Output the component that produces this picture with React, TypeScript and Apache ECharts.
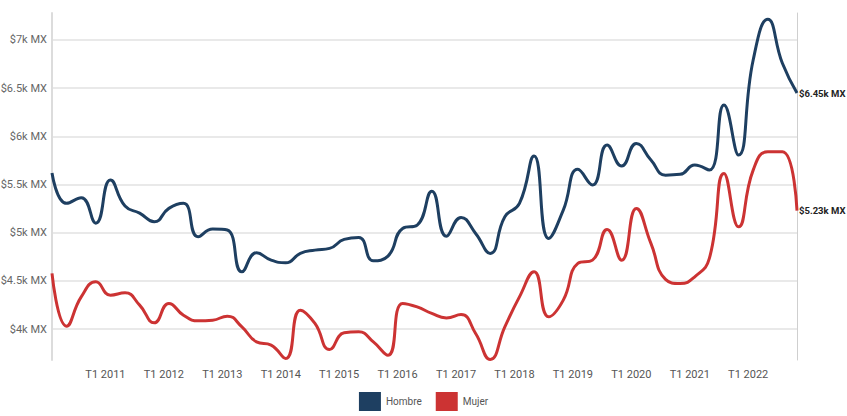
import React, { useEffect, useRef } from "react";
import * as echarts from "echarts";

const years = [2010, 2011, 2012, 2013, 2014, 2015, 2016, 2017, 2018, 2019, 2020, 2021, 2022];
const quarters = ["T1", "T2", "T3", "T4"];
const categories: string[] = [];
years.forEach((y) => quarters.forEach((q) => categories.push(`${q} ${y}`)));

const hombre = [
  5620, 5305, 5363, 5100, 5547, 5277, 5204, 5114, 5253, 5305,
  4958, 5038, 5028, 4595, 4792, 4716, 4688, 4786, 4820, 4838,
  4931, 4952, 4709, 4758, 5045, 5080, 5432, 4965, 5159, 4993,
  4786, 5166, 5305, 5796, 4941, 5235, 5658, 5495, 5910, 5692,
  5927, 5754, 5598, 5606, 5702, 5650, 6325, 5806, 6792, 7215,
  6758, 6450,
];

const mujer = [
  4578, 4031, 4335, 4491, 4353, 4377, 4249, 4066, 4267, 4145,
  4086, 4093, 4135, 4024, 3868, 3834, 3696, 4197, 4059, 3789,
  3962, 3972, 3868, 3730, 4267, 4231, 4163, 4117, 4152, 3955,
  3685, 4024, 4335, 4595, 4128, 4301, 4682, 4716, 5035, 4716,
  5253, 4890, 4516, 4474, 4543, 4734, 5616, 5062, 5650, 5840,
  5840, 5230,
];

const yMin = 3680;
const yMax = 7280;

const FONT = "Roboto, 'Noto Sans', sans-serif";

export default function App() {
  const ref = useRef<HTMLDivElement>(null);
  useEffect(() => {
    document.body.style.margin = "0";
    if (!ref.current) return;
    const chart = echarts.init(ref.current, null, { renderer: "svg" });
    const endFmt = (p: any) => `$${(Math.round(p.value / 10) / 100).toFixed(2)}k MX`;
    chart.setOption({
      animation: false,
      textStyle: { fontFamily: FONT },
      grid: {
        left: 52,
        right: 50,
        top: 13,
        bottom: 56,
        containLabel: false,
        outerBoundsMode: "none",
      },
      legend: {
        bottom: 0,
        left: "center",
        icon: "rect",
        itemWidth: 22,
        itemHeight: 19,
        itemGap: 14,
        textStyle: { color: "#555", fontSize: 10, fontFamily: FONT },
        data: ["Hombre", "Mujer"],
      },
      xAxis: {
        type: "category",
        data: categories,
        boundaryGap: false,
        axisLine: { show: false },
        axisTick: { show: false },
        splitLine: { show: false },
        axisLabel: {
          interval: (i: number) => i % 4 === 0 && i > 0,
          color: "#555",
          fontSize: 11,
          margin: 9,
          padding: [0, 10, 0, 0],
          fontFamily: FONT,
        },
      },
      yAxis: [
        {
          type: "value",
          min: yMin,
          max: yMax,
          splitNumber: 7,
          axisLine: { show: true, lineStyle: { color: "#dcdcdc", width: 2 } },
          axisTick: { show: false },
          splitLine: {
            show: true,
            showMinLine: false,
            showMaxLine: false,
            lineStyle: { color: "#e2e2e2", width: 1.5 },
          },
          axisLabel: {
            color: "#666",
            fontSize: 11,
            margin: 5,
            showMinLabel: false,
            showMaxLabel: false,
            fontFamily: FONT,
            formatter: (v: number) => (v % 500 === 0 ? `$${v / 1000}k MX` : ""),
          },
        },
        {
          type: "value",
          position: "right",
          min: yMin,
          max: yMax,
          splitNumber: 7,
          axisLine: { show: true, lineStyle: { color: "#cfcfcf", width: 1 } },
          axisTick: { show: false },
          splitLine: { show: false },
          axisLabel: { show: false },
        },
      ],
      series: [
        {
          name: "Hombre",
          type: "line",
          data: hombre,
          smooth: 0.5,
          symbol: "none",
          lineStyle: { color: "#1e3f61", width: 3 },
          itemStyle: { color: "#1e3f61" },
          endLabel: {
            show: true,
            formatter: endFmt,
            color: "#222",
            fontSize: 9.5,
            fontWeight: "bold",
            distance: 2,
            fontFamily: FONT,
          },
        },
        {
          name: "Mujer",
          type: "line",
          data: mujer,
          smooth: 0.5,
          symbol: "none",
          lineStyle: { color: "#cc3333", width: 3 },
          itemStyle: { color: "#cc3333" },
          endLabel: {
            show: true,
            formatter: endFmt,
            color: "#222",
            fontSize: 9.5,
            fontWeight: "bold",
            distance: 2,
            fontFamily: FONT,
          },
        },
      ],
    });
    return () => chart.dispose();
  }, []);
  return <div ref={ref} style={{ width: 847, height: 416 }} />;
}
